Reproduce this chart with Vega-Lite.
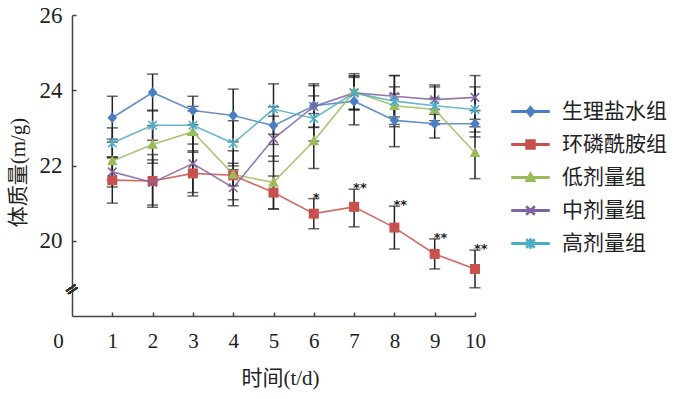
{
  "$schema": "https://vega.github.io/schema/vega-lite/v6.json",
  "autosize": {"type": "none"},
  "padding": {"left": 72, "top": 15, "right": 225, "bottom": 83},
  "width": 403,
  "height": 301,
  "background": "white",
  "config": {
    "view": {"stroke": null},
    "font": "Liberation Serif, Noto Sans CJK SC",
    "axis": {
      "domainColor": "#444444",
      "domainWidth": 1.5,
      "tickColor": "#444444",
      "tickWidth": 1.5,
      "tickSize": -4,
      "grid": false,
      "labelColor": "#222222",
      "titleColor": "#222222",
      "labelFont": "Liberation Serif, Noto Sans CJK SC",
      "titleFont": "Liberation Serif, Noto Sans CJK SC",
      "titleFontWeight": "normal"
    },
    "legend": {
      "title": null,
      "orient": "none",
      "legendX": 448,
      "legendY": 86,
      "padding": 0,
      "labelFont": "Liberation Serif, Noto Sans CJK SC",
      "labelFontSize": 21,
      "labelColor": "#222222",
      "labelOffset": 21,
      "symbolSize": 100,
      "symbolOpacity": 1,
      "rowPadding": 11
    }
  },
  "data": {"values": [
    {"group": "生理盐水组", "day": 1, "mean": 23.27, "lo": 22.70, "hi": 23.84, "sig": ""},
    {"group": "生理盐水组", "day": 2, "mean": 23.94, "lo": 23.45, "hi": 24.43, "sig": ""},
    {"group": "生理盐水组", "day": 3, "mean": 23.46, "lo": 23.08, "hi": 23.84, "sig": ""},
    {"group": "生理盐水组", "day": 4, "mean": 23.33, "lo": 22.63, "hi": 24.03, "sig": ""},
    {"group": "生理盐水组", "day": 5, "mean": 23.06, "lo": 22.56, "hi": 23.56, "sig": ""},
    {"group": "生理盐水组", "day": 6, "mean": 23.59, "lo": 23.01, "hi": 24.17, "sig": ""},
    {"group": "生理盐水组", "day": 7, "mean": 23.71, "lo": 23.08, "hi": 24.34, "sig": ""},
    {"group": "生理盐水组", "day": 8, "mean": 23.20, "lo": 22.50, "hi": 23.90, "sig": ""},
    {"group": "生理盐水组", "day": 9, "mean": 23.11, "lo": 22.73, "hi": 23.49, "sig": ""},
    {"group": "生理盐水组", "day": 10, "mean": 23.11, "lo": 22.76, "hi": 23.46, "sig": ""},
    {"group": "环磷酰胺组", "day": 1, "mean": 21.61, "lo": 21.00, "hi": 22.22, "sig": ""},
    {"group": "环磷酰胺组", "day": 2, "mean": 21.59, "lo": 20.89, "hi": 22.29, "sig": ""},
    {"group": "环磷酰胺组", "day": 3, "mean": 21.79, "lo": 21.19, "hi": 22.39, "sig": ""},
    {"group": "环磷酰胺组", "day": 4, "mean": 21.74, "lo": 21.09, "hi": 22.39, "sig": ""},
    {"group": "环磷酰胺组", "day": 5, "mean": 21.28, "lo": 20.84, "hi": 21.72, "sig": ""},
    {"group": "环磷酰胺组", "day": 6, "mean": 20.72, "lo": 20.32, "hi": 21.12, "sig": "*"},
    {"group": "环磷酰胺组", "day": 7, "mean": 20.90, "lo": 20.37, "hi": 21.37, "sig": "**"},
    {"group": "环磷酰胺组", "day": 8, "mean": 20.35, "lo": 19.78, "hi": 20.92, "sig": "**"},
    {"group": "环磷酰胺组", "day": 9, "mean": 19.65, "lo": 19.25, "hi": 20.05, "sig": "**"},
    {"group": "环磷酰胺组", "day": 10, "mean": 19.25, "lo": 18.75, "hi": 19.75, "sig": "**"},
    {"group": "低剂量组", "day": 1, "mean": 22.12, "lo": 21.62, "hi": 22.62, "sig": ""},
    {"group": "低剂量组", "day": 2, "mean": 22.56, "lo": 22.06, "hi": 23.06, "sig": ""},
    {"group": "低剂量组", "day": 3, "mean": 22.90, "lo": 22.35, "hi": 23.45, "sig": ""},
    {"group": "低剂量组", "day": 4, "mean": 21.76, "lo": 21.46, "hi": 22.06, "sig": ""},
    {"group": "低剂量组", "day": 5, "mean": 21.55, "lo": 20.85, "hi": 22.25, "sig": ""},
    {"group": "低剂量组", "day": 6, "mean": 22.65, "lo": 21.92, "hi": 23.38, "sig": ""},
    {"group": "低剂量组", "day": 7, "mean": 23.97, "lo": 23.50, "hi": 24.44, "sig": ""},
    {"group": "低剂量组", "day": 8, "mean": 23.59, "lo": 23.09, "hi": 24.09, "sig": ""},
    {"group": "低剂量组", "day": 9, "mean": 23.49, "lo": 23.19, "hi": 23.79, "sig": ""},
    {"group": "低剂量组", "day": 10, "mean": 22.34, "lo": 21.65, "hi": 23.03, "sig": ""},
    {"group": "中剂量组", "day": 1, "mean": 21.83, "lo": 21.43, "hi": 22.23, "sig": ""},
    {"group": "中剂量组", "day": 2, "mean": 21.55, "lo": 20.95, "hi": 22.15, "sig": ""},
    {"group": "中剂量组", "day": 3, "mean": 22.05, "lo": 21.28, "hi": 22.82, "sig": ""},
    {"group": "中剂量组", "day": 4, "mean": 21.41, "lo": 20.93, "hi": 21.89, "sig": ""},
    {"group": "中剂量组", "day": 5, "mean": 22.71, "lo": 22.11, "hi": 23.31, "sig": ""},
    {"group": "中剂量组", "day": 6, "mean": 23.57, "lo": 23.02, "hi": 24.12, "sig": ""},
    {"group": "中剂量组", "day": 7, "mean": 23.93, "lo": 23.48, "hi": 24.38, "sig": ""},
    {"group": "中剂量组", "day": 8, "mean": 23.84, "lo": 23.29, "hi": 24.39, "sig": ""},
    {"group": "中剂量组", "day": 9, "mean": 23.75, "lo": 23.36, "hi": 24.14, "sig": ""},
    {"group": "中剂量组", "day": 10, "mean": 23.81, "lo": 23.23, "hi": 24.39, "sig": ""},
    {"group": "高剂量组", "day": 1, "mean": 22.60, "lo": 22.20, "hi": 23.00, "sig": ""},
    {"group": "高剂量组", "day": 2, "mean": 23.07, "lo": 22.67, "hi": 23.47, "sig": ""},
    {"group": "高剂量组", "day": 3, "mean": 23.07, "lo": 22.57, "hi": 23.57, "sig": ""},
    {"group": "高剂量组", "day": 4, "mean": 22.59, "lo": 21.99, "hi": 23.19, "sig": ""},
    {"group": "高剂量组", "day": 5, "mean": 23.50, "lo": 22.83, "hi": 24.17, "sig": ""},
    {"group": "高剂量组", "day": 6, "mean": 23.25, "lo": 22.65, "hi": 23.85, "sig": ""},
    {"group": "高剂量组", "day": 7, "mean": 23.93, "lo": 23.48, "hi": 24.38, "sig": ""},
    {"group": "高剂量组", "day": 8, "mean": 23.71, "lo": 23.03, "hi": 24.39, "sig": ""},
    {"group": "高剂量组", "day": 9, "mean": 23.59, "lo": 23.09, "hi": 24.09, "sig": ""},
    {"group": "高剂量组", "day": 10, "mean": 23.49, "lo": 22.89, "hi": 24.09, "sig": ""}
  ]},
  "encoding": {
    "x": {
      "field": "day", "type": "quantitative",
      "scale": {"domain": [0, 10], "nice": false, "zero": false},
      "axis": {
        "values": [0, 1, 2, 3, 4, 5, 6, 7, 8, 9, 10],
        "title": "时间(t/d)",
        "titleFontSize": 21,
        "titleX": 208,
        "titleY": 62,
        "titleBaseline": "middle",
        "labelFontSize": 21,
        "labelPadding": 18,
        "labelFlush": false,
        "labelOffset": {"condition": {"test": "datum.value == 0", "value": -14}, "value": 0},
        "tickOpacity": {"condition": {"test": "datum.value == 0", "value": 0}, "value": 1}
      }
    }
  },
  "layer": [
    {
      "mark": {"type": "rule", "color": "#222222", "strokeWidth": 1.5},
      "encoding": {
        "y": {"field": "lo", "type": "quantitative",
          "scale": {"domain": [18, 26], "nice": false, "zero": false},
          "axis": {
            "values": [20, 22, 24, 26],
            "title": "体质量(m/g)",
            "titleFontSize": 21,
            "titleAngle": -90,
            "titleX": -54,
            "titleY": 157,
            "titleAlign": "center",
            "titleBaseline": "middle",
            "labelFontSize": 23,
            "labelPadding": 14,
            "labelFlush": false
          }
        },
        "y2": {"field": "hi"}
      }
    },
    {
      "mark": {"type": "tick", "orient": "horizontal", "color": "#222222", "thickness": 1.5, "size": 11},
      "encoding": {"y": {"field": "lo", "type": "quantitative"}}
    },
    {
      "mark": {"type": "tick", "orient": "horizontal", "color": "#222222", "thickness": 1.5, "size": 11},
      "encoding": {"y": {"field": "hi", "type": "quantitative"}}
    },
    {
      "transform": [{"filter": "datum.day > 100"}],
      "mark": {"type": "point", "filled": true, "opacity": 1, "size": 100},
      "encoding": {
        "y": {"field": "mean", "type": "quantitative"},
        "color": {
          "field": "group", "type": "nominal",
          "scale": {
            "domain": ["生理盐水组", "环磷酰胺组", "低剂量组", "中剂量组", "高剂量组"],
            "range": ["#4a7ec2", "#c8504d", "#9bbb59", "#8064a2", "#4bacc6"]
          }
        },
        "shape": {
          "field": "group", "type": "nominal",
          "scale": {
            "domain": ["生理盐水组", "环磷酰胺组", "低剂量组", "中剂量组", "高剂量组"],
            "range": [
              "M-3.7,-0.15H3.7V0.15H-3.7ZM0,-1L0.85,0L0,1L-0.85,0Z",
              "M-3.7,-0.15H3.7V0.15H-3.7ZM-0.9,-0.9H0.9V0.9H-0.9Z",
              "M-3.7,-0.15H3.7V0.15H-3.7ZM0,-1L0.95,0.75H-0.95Z",
              "M-3.7,-0.15H3.7V0.15H-3.7ZM-0.665,-0.835L0.835,0.665L0.665,0.835L-0.835,-0.665ZM-0.665,0.835L-0.835,0.665L0.665,-0.835L0.835,-0.665Z",
              "M-3.7,-0.15H3.7V0.15H-3.7ZM-0.665,-0.835L0.835,0.665L0.665,0.835L-0.835,-0.665ZM-0.665,0.835L-0.835,0.665L0.665,-0.835L0.835,-0.665ZM-0.12,-0.9H0.12V0.9H-0.12Z"
            ]
          }
        }
      }
    },
    {
      "mark": {"type": "line", "strokeWidth": 1.6, "opacity": 0.85},
      "encoding": {
        "y": {"field": "mean", "type": "quantitative"},
        "color": {"field": "group", "type": "nominal"},
        "detail": {"field": "group"}
      }
    },
    {
      "transform": [{"filter": "datum.group == '生理盐水组'"}],
      "mark": {"type": "point", "filled": true, "opacity": 1, "size": 100, "color": "#4a7ec2", "shape": "M0,-1.1L0.95,0L0,1.1L-0.95,0Z"},
      "encoding": {"y": {"field": "mean", "type": "quantitative"}}
    },
    {
      "transform": [{"filter": "datum.group == '环磷酰胺组'"}],
      "mark": {"type": "point", "filled": true, "opacity": 1, "size": 100, "color": "#c8504d", "shape": "M-1,-1H1V1H-1Z"},
      "encoding": {"y": {"field": "mean", "type": "quantitative"}}
    },
    {
      "transform": [{"filter": "datum.group == '低剂量组'"}],
      "mark": {"type": "point", "filled": true, "opacity": 1, "size": 100, "color": "#9bbb59", "shape": "M0,-1.15L1.05,0.85H-1.05Z"},
      "encoding": {"y": {"field": "mean", "type": "quantitative"}}
    },
    {
      "transform": [{"filter": "datum.group == '中剂量组'"}],
      "mark": {"type": "point", "filled": false, "opacity": 1, "size": 100, "strokeWidth": 1.5, "color": "#8064a2", "shape": "M-0.85,-0.85L0.85,0.85M-0.85,0.85L0.85,-0.85"},
      "encoding": {"y": {"field": "mean", "type": "quantitative"}}
    },
    {
      "transform": [{"filter": "datum.group == '高剂量组'"}],
      "mark": {"type": "point", "filled": false, "opacity": 1, "size": 100, "strokeWidth": 1.5, "color": "#4bacc6", "shape": "M-0.85,-0.85L0.85,0.85M-0.85,0.85L0.85,-0.85M0,-1L0,1"},
      "encoding": {"y": {"field": "mean", "type": "quantitative"}}
    },
    {
      "transform": [{"filter": "datum.sig != ''"}],
      "mark": {"type": "text", "align": "left", "baseline": "alphabetic", "dx": -1, "dy": 3, "font": "DejaVu Sans", "fontSize": 13, "fontWeight": "bold", "color": "#222222"},
      "encoding": {
        "y": {"field": "hi", "type": "quantitative"},
        "text": {"field": "sig"}
      }
    },
    {
      "mark": {"type": "text", "text": "=", "angle": -35, "fontSize": 17, "font": "DejaVu Sans", "color": "#333333", "baseline": "middle", "align": "center"},
      "encoding": {
        "x": {"datum": 0},
        "y": {"datum": 18.7}
      }
    }
  ]
}
